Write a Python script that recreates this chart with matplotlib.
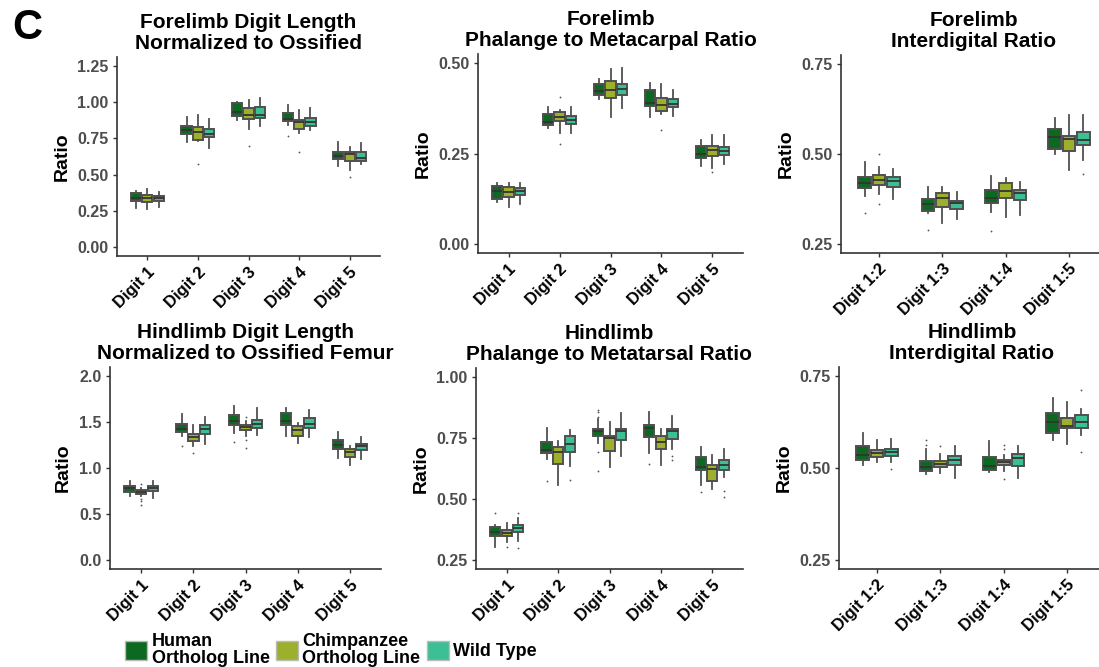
import matplotlib
matplotlib.use("Agg")
import matplotlib.pyplot as plt
from matplotlib.patches import Patch

plt.rcParams["font.family"] = ["Liberation Sans", "DejaVu Sans"]
plt.rcParams["font.weight"] = "bold"

W, H = 1099, 667

GROUPS = ["Human\nOrtholog Line", "Chimpanzee\nOrtholog Line", "Wild Type"]
COLORS = ["#0B6A1F", "#9CB02B", "#3DBF96"]

DIGITS = ["Digit 1", "Digit 2", "Digit 3", "Digit 4", "Digit 5"]
PAIRS = ["Digit 1:2", "Digit 1:3", "Digit 1:4", "Digit 1:5"]

# box stats per group: (whislo, q1, median, q3, whishi) for each category
fore_len = [
    [(0.270, 0.315, 0.340, 0.370, 0.390), (0.726, 0.781, 0.806, 0.836, 0.895), (0.877, 0.907, 0.932, 0.993, 1.005),
     (0.845, 0.868, 0.881, 0.927, 0.982), (0.557, 0.605, 0.628, 0.658, 0.726)],
    [(0.265, 0.311, 0.338, 0.361, 0.397), (0.731, 0.740, 0.792, 0.831, 0.913), (0.818, 0.884, 0.909, 0.959, 1.014),
     (0.786, 0.818, 0.863, 0.877, 0.945), (0.534, 0.594, 0.644, 0.658, 0.690)],
    [(0.274, 0.315, 0.335, 0.354, 0.380), (0.685, 0.758, 0.783, 0.813, 0.881), (0.836, 0.890, 0.909, 0.968, 1.032),
     (0.808, 0.836, 0.863, 0.890, 0.959), (0.571, 0.594, 0.616, 0.655, 0.719)],
]
fore_len_out = [
    [[], [], [], [0.767], []],
    [[], [0.571], [0.697], [0.658], [0.484]],
    [[], [], [], [], []],
]

fore_pm = [
    [(0.116, 0.124, 0.146, 0.161, 0.169), (0.320, 0.330, 0.336, 0.358, 0.378), (0.402, 0.412, 0.423, 0.441, 0.455),
     (0.350, 0.382, 0.390, 0.425, 0.444), (0.215, 0.238, 0.250, 0.271, 0.286)],
    [(0.102, 0.129, 0.143, 0.157, 0.169), (0.308, 0.339, 0.351, 0.364, 0.369), (0.350, 0.403, 0.426, 0.449, 0.484),
     (0.360, 0.367, 0.383, 0.403, 0.441), (0.211, 0.244, 0.260, 0.270, 0.300)],
    [(0.110, 0.134, 0.145, 0.155, 0.169), (0.308, 0.331, 0.343, 0.355, 0.379), (0.377, 0.413, 0.429, 0.442, 0.485),
     (0.355, 0.378, 0.388, 0.402, 0.426), (0.220, 0.246, 0.258, 0.269, 0.300)],
]
fore_pm_out = [
    [[], [], [], [], []],
    [[], [0.405, 0.275], [], [0.315], [0.199]],
    [[], [], [], [], []],
]

fore_id = [
    [(0.383, 0.405, 0.419, 0.435, 0.478), (0.335, 0.342, 0.361, 0.374, 0.409),
     (0.338, 0.365, 0.378, 0.399, 0.440), (0.500, 0.514, 0.548, 0.570, 0.599)],
    [(0.388, 0.414, 0.428, 0.441, 0.463), (0.309, 0.354, 0.378, 0.391, 0.407),
     (0.325, 0.378, 0.398, 0.419, 0.433), (0.455, 0.509, 0.542, 0.551, 0.608)],
    [(0.375, 0.408, 0.424, 0.437, 0.458), (0.319, 0.348, 0.363, 0.370, 0.395),
     (0.331, 0.372, 0.392, 0.399, 0.423), (0.482, 0.524, 0.538, 0.561, 0.609)],
]
fore_id_out = [
    [[0.335], [0.289], [0.287], []],
    [[0.500, 0.361], [], [], []],
    [[], [], [], [0.445]],
]

hind_len = [
    [(0.694, 0.737, 0.777, 0.809, 0.853), (1.345, 1.388, 1.424, 1.475, 1.590), (1.381, 1.471, 1.514, 1.576, 1.676),
     (1.345, 1.464, 1.507, 1.597, 1.658), (1.108, 1.205, 1.255, 1.302, 1.388)],
    [(0.694, 0.712, 0.737, 0.759, 0.784), (1.245, 1.295, 1.338, 1.374, 1.464), (1.345, 1.410, 1.446, 1.468, 1.511),
     (1.270, 1.353, 1.417, 1.460, 1.486), (1.029, 1.115, 1.176, 1.205, 1.245)],
    [(0.676, 0.748, 0.781, 0.806, 0.853), (1.266, 1.374, 1.424, 1.468, 1.558), (1.363, 1.432, 1.478, 1.525, 1.651),
     (1.338, 1.432, 1.478, 1.540, 1.633), (1.094, 1.194, 1.241, 1.266, 1.335)],
]
hind_len_out = [
    [[], [1.237], [1.288], [], []],
    [[0.831, 0.665, 0.645, 0.600], [1.158], [1.555, 1.305, 1.220], [], []],
    [[], [], [], [], []],
]

hind_pm = [
    [(0.304, 0.349, 0.364, 0.385, 0.394), (0.662, 0.687, 0.699, 0.735, 0.790), (0.729, 0.760, 0.777, 0.788, 0.827),
     (0.688, 0.755, 0.790, 0.805, 0.857), (0.558, 0.617, 0.631, 0.672, 0.715)],
    [(0.322, 0.347, 0.359, 0.372, 0.401), (0.558, 0.642, 0.694, 0.714, 0.736), (0.632, 0.696, 0.751, 0.759, 0.814),
     (0.638, 0.706, 0.735, 0.760, 0.786), (0.539, 0.574, 0.623, 0.638, 0.680)],
    [(0.329, 0.364, 0.381, 0.394, 0.421), (0.637, 0.691, 0.725, 0.759, 0.782), (0.677, 0.740, 0.777, 0.786, 0.854),
     (0.706, 0.745, 0.777, 0.789, 0.839), (0.589, 0.617, 0.638, 0.661, 0.703)],
]
hind_pm_out = [
    [[0.441], [0.575], [0.866, 0.857, 0.835, 0.694, 0.615], [0.645], [0.529]],
    [[0.302], [], [], [], []],
    [[0.441, 0.300], [0.579], [], [0.676, 0.661], [0.533, 0.510]],
]

hind_id = [
    [(0.509, 0.523, 0.535, 0.561, 0.594), (0.483, 0.493, 0.503, 0.519, 0.553),
     (0.488, 0.495, 0.506, 0.529, 0.573), (0.577, 0.595, 0.626, 0.651, 0.690)],
    [(0.517, 0.530, 0.540, 0.550, 0.577), (0.486, 0.504, 0.512, 0.518, 0.537),
     (0.492, 0.507, 0.516, 0.523, 0.535), (0.564, 0.608, 0.614, 0.637, 0.679)],
    [(0.517, 0.533, 0.544, 0.552, 0.580), (0.472, 0.508, 0.522, 0.534, 0.561),
     (0.472, 0.505, 0.527, 0.537, 0.561), (0.591, 0.610, 0.626, 0.643, 0.662)],
]
hind_id_out = [
    [[], [0.575, 0.562], [], []],
    [[], [0.561], [0.562, 0.553, 0.469], []],
    [[0.498], [], [], [0.712, 0.543]],
]


def px_rect(left, right, top, bottom):
    return [left / W, 1 - bottom / H, (right - left) / W, (bottom - top) / H]


def draw_panel(fig, rect, title, cats, stats, outliers, ylim, yticks, fmt):
    ax = fig.add_axes(rect)
    for g, (grp, outs) in enumerate(zip(stats, outliers)):
        bx = []
        for s, fl in zip(grp, outs):
            bx.append(dict(whislo=s[0], q1=s[1], med=s[2], q3=s[3], whishi=s[4], fliers=fl))
        pos = [i + (g - 1) * 0.225 for i in range(1, len(cats) + 1)]
        ax.bxp(bx, positions=pos, widths=0.2, patch_artist=True, showcaps=False, manage_ticks=False,
               boxprops=dict(facecolor=COLORS[g], edgecolor="#505050", linewidth=1.4),
               medianprops=dict(color="#333333", linewidth=1.3),
               whiskerprops=dict(color="#505050", linewidth=1.3),
               flierprops=dict(marker="o", markersize=1.3, markerfacecolor="#555555",
                               markeredgecolor="none"))
    span = ylim[1] - ylim[0]
    ax.set_ylim(ylim[0] - 0.05 * span, ylim[1] + 0.05 * span)
    ax.set_xlim(0.4, len(cats) + 0.6)
    ax.set_yticks(yticks)
    ax.set_yticklabels([fmt.format(v) for v in yticks], color="#4D4D4D", fontsize=11.5, fontweight="bold")
    ax.set_xticks(range(1, len(cats) + 1))
    ax.set_xticklabels(cats, rotation=45, ha="right", rotation_mode="anchor",
                       fontsize=12, fontweight="bold", color="black")
    ax.tick_params(axis="both", length=3, width=1, color="#333333", pad=3)
    for side in ("top", "right"):
        ax.spines[side].set_visible(False)
    for side in ("left", "bottom"):
        ax.spines[side].set_color("#333333")
        ax.spines[side].set_linewidth(1.2)
    ax.set_ylabel("Ratio", fontsize=14, fontweight="bold", labelpad=5)
    ax.set_title(title, fontsize=15, fontweight="bold", pad=6, linespacing=1.1)
    return ax


fig = plt.figure(figsize=(W / 100, H / 100), dpi=100)

draw_panel(fig, px_rect(117, 380, 57, 256), "Forelimb Digit Length\nNormalized to Ossified",
           DIGITS, fore_len, fore_len_out, (0, 1.25), [0, 0.25, 0.5, 0.75, 1.0, 1.25], "{:.2f}")
draw_panel(fig, px_rect(478, 743, 54, 253), "Forelimb\nPhalange to Metacarpal Ratio",
           DIGITS, fore_pm, fore_pm_out, (0, 0.5), [0, 0.25, 0.5], "{:.2f}")
draw_panel(fig, px_rect(841, 1107, 55, 253), "Forelimb\nInterdigital Ratio",
           PAIRS, fore_id, fore_id_out, (0.25, 0.75), [0.25, 0.5, 0.75], "{:.2f}")
draw_panel(fig, px_rect(110, 381, 367, 569), "Hindlimb Digit Length\nNormalized to Ossified Femur",
           DIGITS, hind_len, hind_len_out, (0, 2.0), [0, 0.5, 1.0, 1.5, 2.0], "{:.1f}")
draw_panel(fig, px_rect(476, 743, 368, 569), "Hindlimb\nPhalange to Metatarsal Ratio",
           DIGITS, hind_pm, hind_pm_out, (0.25, 1.0), [0.25, 0.5, 0.75, 1.0], "{:.2f}")
draw_panel(fig, px_rect(839, 1105, 367, 569), "Hindlimb\nInterdigital Ratio",
           PAIRS, hind_id, hind_id_out, (0.25, 0.75), [0.25, 0.5, 0.75], "{:.2f}")

fig.text(12 / W, 1 - 8 / H, "C", fontsize=30, fontweight="bold", va="top", ha="left")

handles = [Patch(facecolor=c, edgecolor="#BBBBBB", linewidth=1.0) for c in COLORS]
leg = fig.legend(handles, GROUPS, loc="center left", bbox_to_anchor=(125 / W, 1 - 650 / H),
                 ncol=3, frameon=False, borderpad=0, borderaxespad=0, handlelength=1.22,
                 handleheight=1.22, handletextpad=0.25, columnspacing=0.35,
                 prop=dict(size=13, weight="bold"))
for t in leg.get_texts():
    t.set_linespacing(0.95)

fig.savefig("out.png", dpi=100)
